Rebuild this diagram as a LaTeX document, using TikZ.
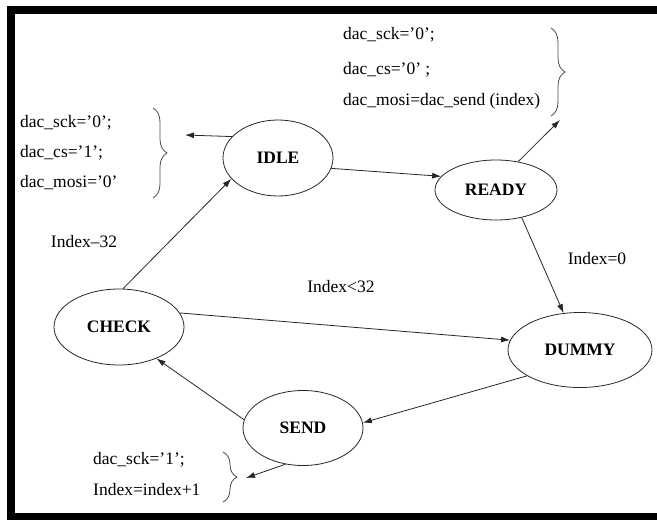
\documentclass[tikz,border=0pt]{standalone}
\usepackage{fontspec}
\setmainfont{Liberation Serif}
\usetikzlibrary{shapes.geometric,decorations.pathreplacing,arrows.meta}

\begin{document}
\begin{tikzpicture}[x=1pt,y=-1pt,
        every node/.style={font=\fontsize{17.5}{21}\selectfont},
        state/.style={draw=black!85,ellipse,line width=0.8pt,inner sep=0pt,
            font=\fontsize{17.5}{21}\selectfont\bfseries},
        trans/.style={draw=black!85,line width=0.8pt,-{Latex[length=9pt,width=6pt]}},
        curly/.style={draw=black!70,line width=0.8pt,decorate,
            decoration={brace,amplitude=14pt}}]
        \useasboundingbox (0,0) rectangle (657,520);
        %% frame
        \draw[line width=8pt] (660,10) -- (11,10) -- (11,517) -- (660,517);
        %% states
        \node[state,minimum width=110,minimum height=76] (idle) at (278,158) {IDLE};
        \node[state,minimum width=122,minimum height=60] (ready) at (496,190) {READY};
        \node[state,minimum width=130,minimum height=76] (check) at (119,327) {CHECK};
        \node[state,minimum width=144,minimum height=75] (dummy) at (580,350) {DUMMY};
        \node[state,minimum width=120,minimum height=75] (send) at (303,428) {SEND};
        %% outputs of IDLE
        \foreach \n/\y/\t in {1/123/dac\_sck=’0’;,2/153/dac\_cs=’1’;,3/183/dac\_mosi=’0’}
            \node[anchor=west,inner sep=0pt] (idletxt\n) at (20,\y) {\t};
        \draw[curly] (153,108) -- (153,198);
        \coordinate (idleout) at (185,135);
        %% outputs of READY
        \foreach \n/\y/\t in {1/35/dac\_sck=’0’;,2/70/dac\_cs=’0’ ;,3/101/dac\_mosi=dac\_send (index)}
            \node[anchor=west,inner sep=0pt] (readytxt\n) at (343,\y) {\t};
        \draw[curly] (551,28) -- (551,116);
        \coordinate (readyout) at (560,120);
        %% outputs of SEND
        \foreach \n/\y/\t in {1/460/dac\_sck=’1’;,2/490/Index=index+1}
            \node[anchor=west,inner sep=0pt] (sendtxt\n) at (93,\y) {\t};
        \draw[curly] (223,452) -- (223,502);
        \coordinate (sendout) at (246,478);
        %% transitions
        \draw[trans] (idle.155) -- (idleout);
        \draw[trans] (idle.-11) -- (ready.166);
        \draw[trans] (ready.52) -- (readyout);
        \draw[trans] (ready.-47) -- (dummy.114);
        \draw[trans] (check.13) -- (dummy.172);
        \draw[trans] (dummy.206) -- (send.5);
        \draw[trans] (send.172) -- (check.-40);
        \draw[trans] (send.244) -- (sendout);
        \draw[trans] (check.84) -- (idle.204);
        %% conditions
        \node (c32) at (84,242) {Index–32};
        \node (lt32) at (341,287) {Index<32};
        \node (eq0) at (597,259) {Index=0};
    \end{tikzpicture}
\end{document}
